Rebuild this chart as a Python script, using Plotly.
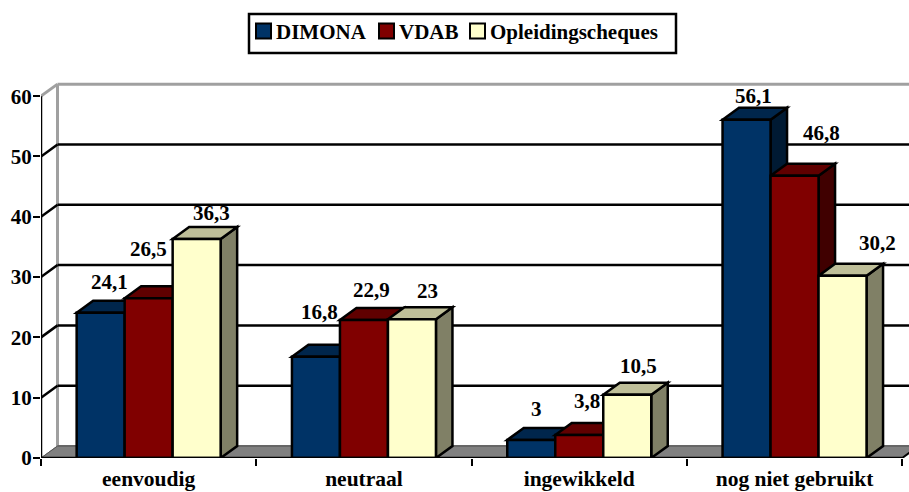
import plotly.graph_objects as go

categories = ["eenvoudig", "neutraal", "ingewikkeld", "nog niet gebruikt"]
dimona = [24.1, 16.8, 3, 56.1]
vdab = [26.5, 22.9, 3.8, 46.8]
opleiding = [36.3, 23, 10.5, 30.2]
y_ticks = [0, 10, 20, 30, 40, 50, 60]

series_names = ["DIMONA", "VDAB", "Opleidingscheques"]
series_values = [dimona, vdab, opleiding]
front_colors = ["#003366", "#800000", "#FFFFCC"]
top_colors = ["#00264C", "#600000", "#BFBF99"]
side_colors = ["#001A33", "#400000", "#808066"]

# manual label displacement in px, relative to the bar's front-top centre
label_shift = [
    [(9, 31), (4, 45), (5, 31), (7, 24)],
    [(0, 49), (8, 30), (8, 34), (27, 43)],
    [(15, 26), (16, 28), (11, 29), (35, 33)],
]
# legend layout in page px: swatch left edge and text left edge per entry
legend_swatch_px = [256, 379, 470]
legend_text_px = [276, 399, 490]

W, H = 909, 492
LEFT, ZERO_PY = 41.0, 457.6
CAT_PX, UNIT_PX = 215.3, 6.026
TOP_VALUE = 65.0
DX, DY = 16.5 / CAT_PX, 12.0 / UNIT_PX  # depth of the 3D projection in data units
GROUP = 144.0 / 215.3
BAR = GROUP / 3
X_MAX = (W - LEFT) / CAT_PX
FONT = "Liberation Serif"
SIZE = 21
SIZE_WIDE = 21.5
EDGE = 2.5


def px_x(p):
    return (p - LEFT) / (W - LEFT)


def px_y(p):
    return (ZERO_PY - p) / (TOP_VALUE * UNIT_PX)


def path(points):
    return "M" + " L".join(f"{x:.5f},{y:.5f}" for x, y in points) + " Z"


def poly(points, fill, color="black", width=EDGE, layer="below"):
    return dict(type="path", path=path(points), fillcolor=fill, layer=layer,
                line=dict(color=color, width=width), xref="x", yref="y")


def seg(x0, y0, x1, y1, color="black", width=2, layer="below"):
    return dict(type="line", x0=x0, y0=y0, x1=x1, y1=y1, layer=layer, xref="x", yref="y",
                line=dict(color=color, width=width))


n = len(categories)
shapes = []
# floor
shapes.append(poly([(0, 0), (DX, DY), (n + DX, DY), (n, 0)], "#808080", "#707070", 1))
# back wall
shapes.append(seg(DX, DY, DX, y_ticks[-1] + DY, "#A0A0A0", 3))
shapes.append(seg(DX, DY, n + DX, DY, "#666666", 2))
for t in y_ticks[1:]:
    c = "#A0A0A0" if t == y_ticks[-1] else "black"
    w = 3 if t == y_ticks[-1] else 2.5
    shapes.append(seg(DX, t + DY, n + DX, t + DY, c, w))
    shapes.append(seg(0, t, DX, t + DY, c, w))

# 3D faces, from left to right so that each bar hides its neighbour
for g in range(n):
    for s in range(3):
        v = series_values[s][g]
        x0 = g + 0.5 - GROUP / 2 + s * BAR
        x1 = x0 + BAR
        shapes.append(poly([(x1, 0), (x1 + DX, DY), (x1 + DX, v + DY), (x1, v)], side_colors[s]))
        shapes.append(poly([(x0, v), (x0 + DX, v + DY), (x1 + DX, v + DY), (x1, v)], top_colors[s]))

# axes
shapes.append(seg(0, 0, 0, y_ticks[-1], "black", 2.5, "above"))
shapes.append(seg(0, 0, n, 0, "black", 2.5, "above"))
shapes.append(seg(0, 0, DX, DY, "#555555", 1, "below"))
shapes.append(seg(n, 0, n + DX, DY, "black", 2, "below"))

fig = go.Figure()
centers = [i + 0.5 for i in range(n)]
for s in range(3):
    fig.add_trace(go.Bar(
        x=centers, y=series_values[s], name=series_names[s],
        marker=dict(color=front_colors[s], line=dict(color="black", width=EDGE)),
        hoverinfo="x+y+name", showlegend=False,
    ))

annotations = []
for s in range(3):
    for g in range(n):
        v = series_values[s][g]
        xs, ys = label_shift[s][g]
        annotations.append(dict(
            x=g + 0.5 - BAR + s * BAR, y=v, text=str(v).replace(".", ","),
            xref="x", yref="y", showarrow=False, xanchor="center", yanchor="middle",
            xshift=xs, yshift=ys,
            font=dict(family=FONT, size=SIZE, color="black", weight=700),
        ))

# legend box, swatches and entries
shapes.append(dict(type="rect", xref="paper", yref="paper", layer="above",
                   x0=px_x(249), x1=px_x(676), y0=px_y(53), y1=px_y(14),
                   fillcolor="white", line=dict(color="black", width=2.5)))
for s in range(3):
    shapes.append(dict(type="rect", xref="paper", yref="paper", layer="above",
                       x0=px_x(legend_swatch_px[s]), x1=px_x(legend_swatch_px[s] + 15),
                       y0=px_y(38.5), y1=px_y(23.5), fillcolor=front_colors[s],
                       line=dict(color="black", width=2)))
    annotations.append(dict(
        x=px_x(legend_text_px[s]), y=px_y(32), text=series_names[s],
        xref="paper", yref="paper", showarrow=False, xanchor="left", yanchor="middle",
        xshift=-2,
        font=dict(family=FONT, size=SIZE, color="black", weight=700),
    ))

fig.update_layout(
    width=W, height=H,
    autosize=False,
    margin=dict(l=LEFT, r=0, t=ZERO_PY - TOP_VALUE * UNIT_PX, b=H - ZERO_PY, pad=0,
                autoexpand=False),
    paper_bgcolor="white", plot_bgcolor="white",
    barmode="group", bargap=1 - GROUP, bargroupgap=0,
    shapes=shapes, annotations=annotations, showlegend=False,
    font=dict(family=FONT, size=SIZE, color="black", weight=700),
    xaxis=dict(
        range=[0, X_MAX], tickmode="array", tickvals=centers, ticktext=categories,
        ticks="", showgrid=False, zeroline=False, showline=False, ticklabelstandoff=5,
        automargin=False,
        tickfont=dict(family=FONT, size=SIZE_WIDE, color="black", weight=700),
        minor=dict(tickmode="array", tickvals=list(range(n + 1)), ticks="outside",
                   ticklen=7, tickwidth=2, tickcolor="black", showgrid=False),
    ),
    yaxis=dict(
        range=[0, TOP_VALUE], tickmode="array", tickvals=y_ticks,
        ticks="outside", ticklen=7, tickwidth=2, tickcolor="black",
        showgrid=False, zeroline=False, showline=False, ticklabelstandoff=-3,
        automargin=False,
        tickfont=dict(family=FONT, size=SIZE, color="black", weight=700),
    ),
)

fig.write_html("out.html", config=dict(displayModeBar=False),
               post_script="document.body.style.margin='0';document.documentElement.style.overflow='hidden';")
